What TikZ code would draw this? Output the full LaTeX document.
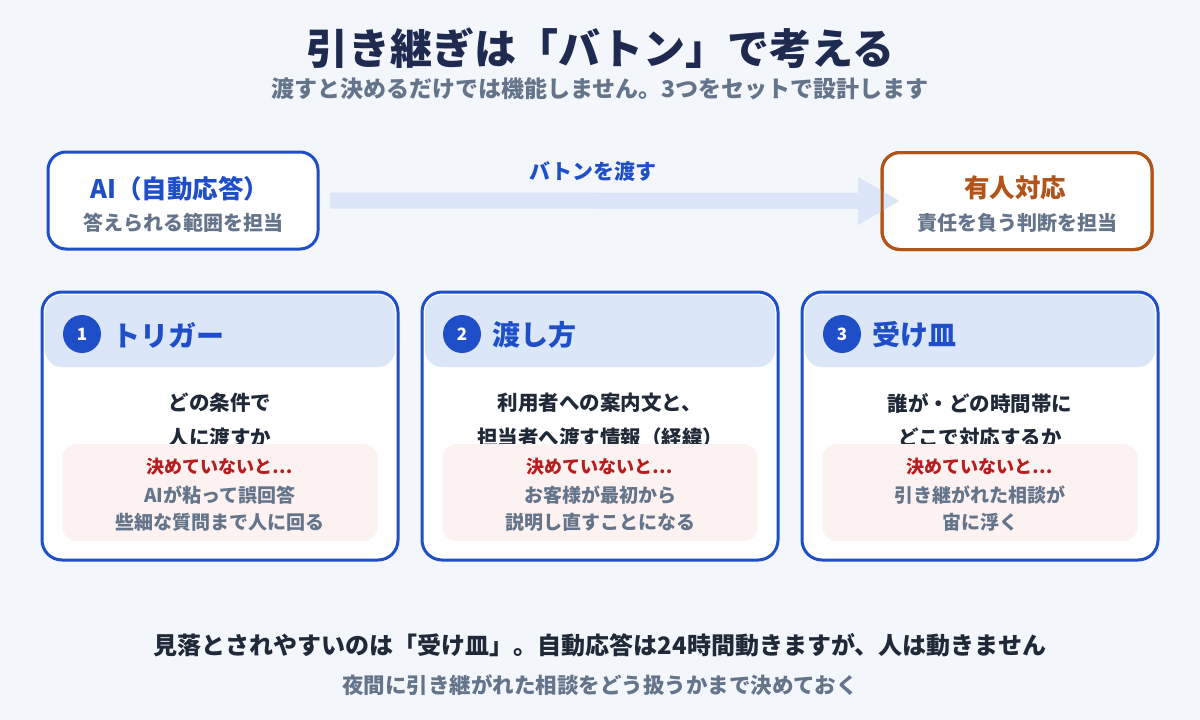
\documentclass[tikz,border=0pt]{standalone}
\usepackage{fontspec}
\setmainfont{Noto Sans CJK JP}
\usetikzlibrary{arrows.meta}
\definecolor{bg}{HTML}{F3F6FB}
\definecolor{navy}{HTML}{1E2A4F}
\definecolor{slate}{HTML}{64748B}
\definecolor{bblue}{HTML}{1F4FC8}
\definecolor{lblue}{HTML}{DBE6F8}
\definecolor{ornge}{HTML}{B0541A}
\definecolor{redt}{HTML}{B91C1C}
\definecolor{pinkf}{HTML}{FCF2F2}
\definecolor{darkt}{HTML}{1F2937}
\newcommand{\fs}[1]{\fontsize{#1}{#1}\selectfont\bfseries}
\begin{document}
\begin{tikzpicture}[x=1pt,y=-1pt,
  every node/.style={inner sep=0pt, outer sep=0pt},
  titletext/.style={font=\fs{42}, text=navy},
  subtext/.style={font=\fs{23}, text=slate},
  rolebox/.style={line width=3pt, rounded corners=18pt, fill=white, minimum width=270pt, minimum height=97pt},
  rolehead/.style={font=\fs{25.5}},
  rolesub/.style={font=\fs{20}, text=slate},
  cardbox/.style={draw=bblue, line width=3pt, rounded corners=20pt, fill=white, minimum width=356pt, minimum height=268pt},
  cardhead/.style={fill=lblue, rounded corners=17pt, minimum width=350pt, minimum height=72pt},
  numdot/.style={circle, fill=bblue, minimum size=38pt, text=white, font=\fs{17}},
  cardtitle/.style={font=\fs{28}, text=bblue, anchor=west},
  bodytext/.style={font=\fs{20.5}, text=darkt},
  pinkbox/.style={fill=pinkf, rounded corners=14pt, minimum width=315pt, minimum height=97pt},
  warntext/.style={font=\fs{18}, text=redt},
  effecttext/.style={font=\fs{19}, text=slate},
  baton/.style={draw=lblue, line width=16pt, -{Triangle[width=45pt,length=42pt]}, shorten <=12pt, shorten >=-18pt}
]
\fill[bg] (0,0) rectangle (1200,720);
\useasboundingbox (0,0) rectangle (1200,720);

% title
\node[titletext] (title) at (600,48) {引き継ぎは「バトン」で考える};
\node[subtext] (subtitle) at (600,89) {渡すと決めるだけでは機能しません。3つをセットで設計します};

% role boxes
\node[rolebox, draw=bblue] (ai) at (183,200.5) {};
\node[rolebox, draw=ornge] (hu) at (1017,201) {};
\draw[baton] (ai.east) -- (hu.west);
\draw[ornge, line width=3pt, rounded corners=18pt] (hu.south west) rectangle (hu.north east);
\node[rolehead, text=bblue] (aih) at (180,189) {AI（自動応答）};
\node[rolesub] (ais) at (183,223) {答えられる範囲を担当};
\node[rolehead, text=ornge] (huh) at (1015,188) {有人対応};
\node[rolesub] (hus) at (1017,223) {責任を負う判断を担当};
\node[font=\fs{21}, text=bblue] (batonlbl) at (593,172) {バトンを渡す};

% cards
\foreach \i/\cx/\ttl/\la/\lb/\wa/\wb in {
  1/220/トリガー/どの条件で/人に渡すか/AIが粘って誤回答/些細な質問まで人に回る,
  2/600/渡し方/利用者への案内文と、/担当者へ渡す情報（経緯）/お客様が最初から/説明し直すことになる,
  3/980/受け皿/誰が・どの時間帯に/どこで対応するか/引き継がれた相談が/宙に浮く}{
  \node[cardbox] (card\i) at (\cx,426) {};
  \node[cardhead] (head\i) at (\cx,331) {};
  \node[numdot] (num\i) at (\cx-138,334) {\i};
  \node[cardtitle] (ttl\i) at (\cx-108,335) {\ttl};
  \node[bodytext] (bodya\i) at (\cx,403) {\la};
  \node[bodytext] (bodyb\i) at (\cx,438) {\lb};
  \node[pinkbox] (pink\i) at (\cx,492.5) {};
  \node[warntext] (warn\i) at (\cx,467) {決めていないと…};
  \node[effecttext] (effa\i) at (\cx,495) {\wa};
  \node[effecttext] (effb\i) at (\cx,522) {\wb};
}

% bottom
\node[font=\fs{24}, text=darkt] (note) at (600,645) {見落とされやすいのは「受け皿」。自動応答は24時間動きますが、人は動きません};
\node[font=\fs{21.5}, text=slate] (note2) at (600,685) {夜間に引き継がれた相談をどう扱うかまで決めておく};
\end{tikzpicture}
\end{document}
